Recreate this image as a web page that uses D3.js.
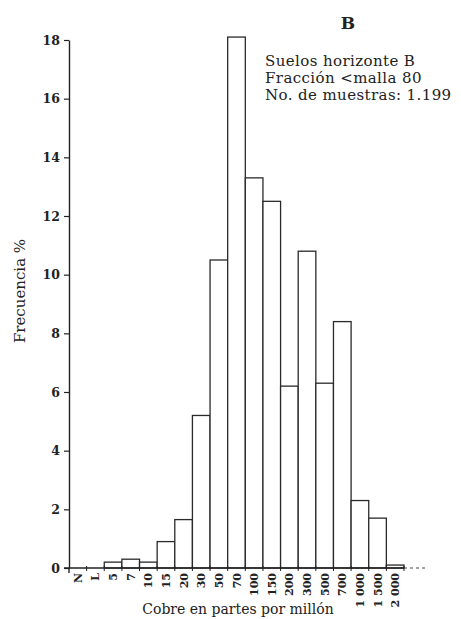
<!DOCTYPE html>
<html>
<head>
<meta charset="utf-8">
<script src="https://cdn.jsdelivr.net/npm/d3@7"></script>
<style>
  body { margin: 0; background: #fff; }
  svg { display: block; }
  text { font-family: "DejaVu Serif", "Liberation Serif", serif; fill: #222; }
</style>
</head>
<body>
<svg id="svg1" width="461" height="619"></svg>
<script>
// categories (Cu ppm classes) and frequency %
var categories = ["N", "L", "5", "7", "10", "15", "20", "30", "50", "70", "100", "150", "200", "300", "500", "700", "1 000", "1 500", "2 000"];
var frequency = [0, 0, 0.2, 0.3, 0.2, 0.9, 1.65, 5.2, 10.5, 18.1, 13.3, 12.5, 6.2, 10.8, 6.3, 8.4, 2.3, 1.7, 0.1];
var yTicks = [0, 2, 4, 6, 8, 10, 12, 14, 16, 18];
var legendLines = ["Suelos horizonte B", "Fracción <malla 80", "No. de muestras: 1.199"];

var data = categories.map(function(c, i) { return { cat: c, value: frequency[i] }; });

var svg = d3.select('#svg1');

var scaleX = d3.scaleBand().domain(categories).range([69, 404]).padding(0);
var scaleY = d3.scaleLinear().domain([0, 18]).range([568, 40]);

// bars
svg.selectAll(".bar")
    .data(data.filter(function(d) { return d.value > 0; }))
    .enter()
    .append("rect")
    .attr("class", "bar")
    .attr("x", function(d) { return scaleX(d.cat); })
    .attr("y", function(d) { return scaleY(d.value); })
    .attr("width", scaleX.bandwidth())
    .attr("height", function(d) { return scaleY(0) - scaleY(d.value); })
    .attr("fill", "#fff")
    .attr("stroke", "#2a2a2a")
    .attr("stroke-width", 1.3);

// y axis
var yAxis = svg.append("g")
    .attr("transform", "translate(69,0)")
    .call(d3.axisLeft(scaleY).tickValues(yTicks).tickSize(5).tickPadding(4).tickSizeOuter(0));
yAxis.select(".domain").attr("stroke", "#222").attr("stroke-width", 1.4);
yAxis.selectAll(".tick line").attr("stroke", "#222").attr("stroke-width", 1.2);
yAxis.selectAll(".tick text")
    .attr("font-family", "DejaVu Serif")
    .attr("font-weight", "bold")
    .attr("font-size", 12.5)
    .attr("fill", "#222");
yAxis.append("line")
    .attr("x1", 0).attr("x2", 0)
    .attr("y1", scaleY(0)).attr("y2", scaleY(0) + 5)
    .attr("stroke", "#222").attr("stroke-width", 1.4);

// x axis baseline
svg.append("line")
    .attr("x1", 64).attr("x2", scaleX.range()[1])
    .attr("y1", scaleY(0)).attr("y2", scaleY(0))
    .attr("stroke", "#222").attr("stroke-width", 1.3);
svg.append("line")
    .attr("x1", scaleX.range()[1]).attr("x2", 425)
    .attr("y1", scaleY(0)).attr("y2", scaleY(0))
    .attr("stroke", "#444").attr("stroke-width", 1)
    .attr("stroke-dasharray", "3,3");

// tick marks at class boundaries
var edges = categories.map(function(c) { return scaleX(c); }).concat([scaleX.range()[1]]);
svg.selectAll(".edge-ticks")
    .data(edges.slice(1))
    .enter()
    .append("line")
    .attr("class", "edge-ticks")
    .attr("x1", function(d) { return d; })
    .attr("x2", function(d) { return d; })
    .attr("y1", scaleY(0) - 2)
    .attr("y2", scaleY(0) + 3)
    .attr("stroke", "#222")
    .attr("stroke-width", 1);

// x tick labels, rotated, centred on each class
svg.selectAll(".xlabels")
    .data(categories)
    .enter()
    .append("text")
    .attr("class", "xlabels")
    .attr("transform", function(d) {
        return "translate(" + (scaleX(d) + scaleX.bandwidth() / 2 + 4) + "," + (scaleY(0) + 5) + ") rotate(-90)";
    })
    .attr("text-anchor", "end")
    .attr("font-size", 11)
    .attr("font-weight", "bold")
    .text(function(d) { return d; });

// axis titles
svg.append("text")
    .attr("x", 238)
    .attr("y", 614)
    .attr("text-anchor", "middle")
    .attr("font-size", 14)
    .text("Cobre en partes por millón");

svg.append("text")
    .attr("transform", "translate(25,291) rotate(-90)")
    .attr("text-anchor", "middle")
    .attr("font-size", 15)
    .text("Frecuencia %");

// panel letter
svg.append("text")
    .attr("x", 348)
    .attr("y", 29)
    .attr("text-anchor", "middle")
    .attr("font-size", 17)
    .attr("font-weight", "bold")
    .text("B");

// legend
svg.selectAll(".legend")
    .data(legendLines)
    .enter()
    .append("text")
    .attr("class", "legend")
    .attr("x", 265)
    .attr("y", function(d, i) { return 66 + i * 17; })
    .attr("font-size", 15)
    .attr("letter-spacing", 0.4)
    .text(function(d) { return d; });
</script>
</body>
</html>
